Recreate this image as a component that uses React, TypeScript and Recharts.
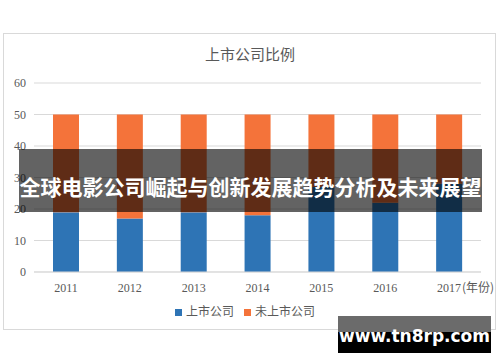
import { BarChart, Bar, XAxis, YAxis, CartesianGrid, Legend } from "recharts";

const years = ["2011", "2012", "2013", "2014", "2015", "2016", "2017"];
const listed = [19, 17, 19, 18, 27, 22, 28];
const unlisted = [31, 33, 31, 32, 23, 28, 22];
const yTicks = [0, 10, 20, 30, 40, 50, 60];

const data = years.map((y, i) => ({ year: y, listed: listed[i], unlisted: unlisted[i] }));

const SERIF = "'Liberation Serif', 'Noto Sans CJK SC', serif";
const CJK = "'Noto Sans CJK SC', sans-serif";
const TEXT = "#595959";

function YearTick(props: any) {
  const { x, y, payload, index } = props;
  const last = index === years.length - 1;
  return (
    <g>
      <text x={x} y={y} dy="0.71em" textAnchor="middle" fontSize={12} fill={TEXT} fontFamily={SERIF}>
        {payload.value}
      </text>
      {last && (
        <text x={x + 13} y={y} dy="0.71em" textAnchor="start" fontSize={12} fill={TEXT} fontFamily={CJK}>
          (年份)
        </text>
      )}
    </g>
  );
}

export default function App() {
  return (
    <div style={{ position: "absolute", left: 0, top: 0, width: 500, height: 362, background: "#fff", overflow: "hidden" }}>
      <div
        style={{
          position: "absolute",
          left: 3,
          top: 33,
          width: 491,
          height: 295,
          border: "1px solid #d9d9d9",
        }}
      />
      <div
        style={{
          position: "absolute",
          left: 0,
          width: 500,
          top: 43,
          textAlign: "center",
          fontFamily: CJK,
          fontSize: 15,
          color: TEXT,
        }}
      >
        上市公司比例
      </div>
      <div style={{ position: "absolute", left: 0, top: 0 }}>
        <BarChart width={500} height={362} data={data} margin={{ top: 83, right: 19, left: 0, bottom: 43 }}>
          <CartesianGrid vertical={false} stroke="#d9d9d9" />
          <XAxis
            dataKey="year"
            tickLine={false}
            axisLine={{ stroke: "#d9d9d9" }}
            tick={<YearTick />}
            tickMargin={5}
            interval={0}
          />
          <YAxis
            width={34}
            domain={[0, 60]}
            ticks={yTicks}
            tickLine={false}
            axisLine={false}
            tick={{ fontSize: 12, fill: TEXT, fontFamily: SERIF }}
          />
          <Legend
            verticalAlign="bottom"
            iconType="square"
            iconSize={7}
            wrapperStyle={{ top: 302, bottom: "auto", left: 0, width: 500, fontFamily: CJK, fontSize: 12 }}
            formatter={(v: string) => <span style={{ color: TEXT }}>{v}</span>}
          />
          <Bar dataKey="listed" name="上市公司" stackId="a" fill="#2e74b5" barSize={26} isAnimationActive={false} />
          <Bar dataKey="unlisted" name="未上市公司" stackId="a" fill="#f4733a" barSize={26} isAnimationActive={false} />
        </BarChart>
      </div>
      <div
        style={{
          position: "absolute",
          left: 19,
          top: 149,
          width: 463,
          height: 63,
          background: "rgba(0,0,0,0.61)",
          color: "#fff",
          fontFamily: CJK,
          fontWeight: 700,
          fontSize: 21,
          lineHeight: "63px",
          textAlign: "center",
          whiteSpace: "nowrap",
          paddingTop: 6,
          boxSizing: "border-box",
        }}
      >
        全球电影公司崛起与创新发展趋势分析及未来展望
      </div>
      <div style={{ position: "absolute", left: 338, top: 316, width: 153, height: 16, background: "#6b6b6b" }} />
      <div style={{ position: "absolute", left: 338, top: 332, width: 153, height: 21, background: "#000" }} />
      <div
        style={{
          position: "absolute",
          left: 338,
          top: 326,
          width: 153,
          textAlign: "center",
          color: "#fff",
          fontFamily: "'DejaVu Sans', sans-serif",
          fontWeight: 700,
          fontSize: 17,
          lineHeight: "20px",
        }}
      >
        www.tn8rp.com
      </div>
    </div>
  );
}
